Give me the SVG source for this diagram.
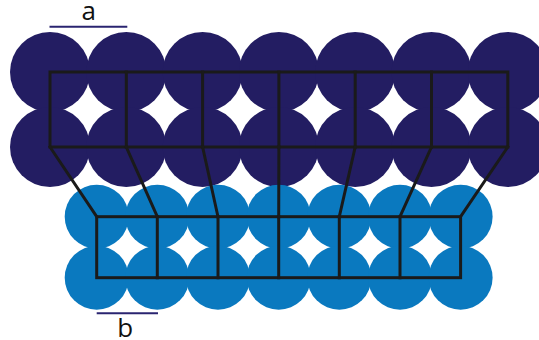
<svg xmlns="http://www.w3.org/2000/svg" width="539" height="340" viewBox="0 0 539 340">
<style>
.top circle{fill:#231d62}
.bot circle{fill:#0a79bf}
.grid{fill:none;stroke:#1a1a1a;stroke-width:3;stroke-linejoin:miter;stroke-linecap:square}
.lbl{font-family:"Open Sans","Liberation Sans",sans-serif;font-size:26px;fill:#111;text-anchor:middle}
.dim{stroke:#2a2470;stroke-width:2}
</style>
<rect width="539" height="340" fill="#fff"/>
<g id="top-layer" class="top">
<circle cx="50" cy="72" r="40"/><circle cx="126.3" cy="72" r="40"/><circle cx="202.6" cy="72" r="40"/><circle cx="278.9" cy="72" r="40"/><circle cx="355.2" cy="72" r="40"/><circle cx="431.5" cy="72" r="40"/><circle cx="507.8" cy="72" r="40"/>
<circle cx="50" cy="147" r="40"/><circle cx="126.3" cy="147" r="40"/><circle cx="202.6" cy="147" r="40"/><circle cx="278.9" cy="147" r="40"/><circle cx="355.2" cy="147" r="40"/><circle cx="431.5" cy="147" r="40"/><circle cx="507.8" cy="147" r="40"/>
</g>
<g id="bottom-layer" class="bot">
<circle cx="96.7" cy="216.7" r="32"/><circle cx="157.3" cy="216.7" r="32"/><circle cx="218" cy="216.7" r="32"/><circle cx="278.7" cy="216.7" r="32"/><circle cx="339.3" cy="216.7" r="32"/><circle cx="400" cy="216.7" r="32"/><circle cx="460.6" cy="216.7" r="32"/>
<circle cx="96.7" cy="277.7" r="32"/><circle cx="157.3" cy="277.7" r="32"/><circle cx="218" cy="277.7" r="32"/><circle cx="278.7" cy="277.7" r="32"/><circle cx="339.3" cy="277.7" r="32"/><circle cx="400" cy="277.7" r="32"/><circle cx="460.6" cy="277.7" r="32"/>
</g>
<g id="connectors" class="grid">
<rect x="50" y="72" width="457.8" height="75"/>
<path d="M126.3 72V147M202.6 72V147M278.9 72V147M355.2 72V147M431.5 72V147"/>
<rect x="96.7" y="216.7" width="363.9" height="61"/>
<path d="M157.3 216.7V277.7M218 216.7V277.7M278.7 216.7V277.7M339.3 216.7V277.7M400 216.7V277.7"/>
<path d="M50 147L96.7 216.7M126.3 147L157.3 216.7M202.6 147L218 216.7M278.9 147L278.7 216.7M355.2 147L339.3 216.7M431.5 147L400 216.7M507.8 147L460.6 216.7"/>
</g>
<g id="label-a">
<line class="dim" x1="49.5" y1="26.7" x2="127.3" y2="26.7"/>
<text class="lbl" x="88.8" y="20">a</text>
</g>
<g id="label-b">
<line class="dim" x1="96.7" y1="313.3" x2="158" y2="313.3"/>
<text class="lbl" x="125.3" y="336.5">b</text>
</g>
</svg>
